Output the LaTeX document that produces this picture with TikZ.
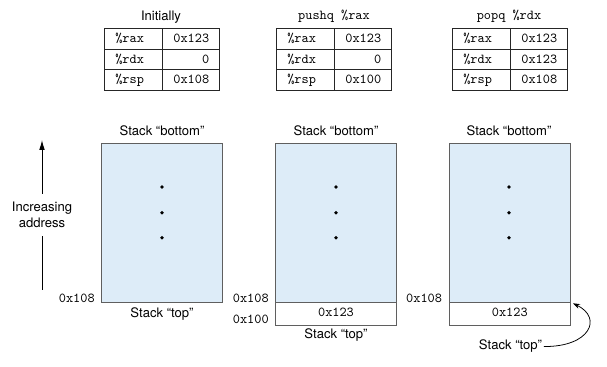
\documentclass[tikz,border=0pt]{standalone}
\usepackage{fontspec}
\setmainfont{TeX Gyre Heros}
\usetikzlibrary{arrows.meta}
\definecolor{stackblue}{RGB}{221,236,248}
\definecolor{boxgray}{RGB}{95,95,95}
\tikzset{
  lbl/.style={font=\fontsize{9.3}{11}\selectfont, inner sep=0pt},
  regtt/.style={font=\fontsize{9.7}{11}\ttfamily, inner sep=0pt},
  cell/.style={draw=black!85, line width=0.55pt},
  stackbox/.style={draw=boxgray, fill=stackblue, line width=0.7pt},
  slot/.style={draw=boxgray, fill=white, line width=0.7pt},
  dot/.style={fill=black, draw=none},
}
\begin{document}
\begin{tikzpicture}[x=0.025cm, y=-0.025cm]
\useasboundingbox (0,0) rectangle (607,367);

%%%register tables
\node[lbl, anchor=base] (titleA) at (161,20.7) {Initially};
\draw[cell] (104,28.5) rectangle (219,90);
\draw[cell] (162,28.5)--(162,90);
\draw[cell] (104,49)--(219,49);
\draw[cell] (104,69.5)--(219,69.5);
\node[regtt, anchor=base west] (raxA) at (115,43) {\%rax};
\node[regtt, anchor=base west] (rdxA) at (115,63.5) {\%rdx};
\node[regtt, anchor=base west] (rspA) at (115,84) {\%rsp};
\node[regtt, anchor=base east] (raxvalA) at (209.5,43) {0x123};
\node[regtt, anchor=base east] (rdxvalA) at (209.5,63.5) {0};
\node[regtt, anchor=base east] (rspvalA) at (209.5,84) {0x108};

\node[regtt, anchor=base] (titleB) at (334,20) {pushq \%rax};
\draw[cell] (276,28.5) rectangle (391,90);
\draw[cell] (334.5,28.5)--(334.5,90);
\draw[cell] (276,49)--(391,49);
\draw[cell] (276,69.5)--(391,69.5);
\node[regtt, anchor=base west] (raxB) at (287,43) {\%rax};
\node[regtt, anchor=base west] (rdxB) at (287,63.5) {\%rdx};
\node[regtt, anchor=base west] (rspB) at (287,84) {\%rsp};
\node[regtt, anchor=base east] (raxvalB) at (381.5,43) {0x123};
\node[regtt, anchor=base east] (rdxvalB) at (381.5,63.5) {0};
\node[regtt, anchor=base east] (rspvalB) at (381.5,84) {0x100};

\node[regtt, anchor=base] (titleC) at (509,20) {popq \%rdx};
\draw[cell] (452,28.5) rectangle (567,90);
\draw[cell] (510,28.5)--(510,90);
\draw[cell] (452,49)--(567,49);
\draw[cell] (452,69.5)--(567,69.5);
\node[regtt, anchor=base west] (raxC) at (463,43) {\%rax};
\node[regtt, anchor=base west] (rdxC) at (463,63.5) {\%rdx};
\node[regtt, anchor=base west] (rspC) at (463,84) {\%rsp};
\node[regtt, anchor=base east] (raxvalC) at (557.5,43) {0x123};
\node[regtt, anchor=base east] (rdxvalC) at (557.5,63.5) {0x123};
\node[regtt, anchor=base east] (rspvalC) at (557.5,84) {0x108};

%%%increasing address arrow
\coordinate (arrowlow) at (42,290);
\coordinate (arrowhigh) at (42,140);
\node[lbl, align=center, inner ysep=6pt] (incr) at (42,215) {Increasing\\address};
\draw[line width=0.7pt, -{Latex[length=7pt, width=4pt]}] (arrowlow) -- (incr) -- (arrowhigh);

%%%stack initially
\draw[stackbox] (101.7,143.3) rectangle (222.7,302.7);
\fill[dot] (162,187) circle (1.9);
\fill[dot] (162,212.7) circle (1.9);
\fill[dot] (162,237.7) circle (1.9);
\node[lbl, anchor=base] (bottomA) at (162,135.5) {Stack “bottom”};
\node[lbl, anchor=base] (topA) at (162,317.5) {Stack “top”};
\node[regtt, anchor=base east] (addrA) at (95,303) {0x108};

%%%stack after pushq
\draw[stackbox] (275,143.3) rectangle (396.7,302.7);
\draw[slot] (275,302.7) rectangle (396.7,325.7);
\fill[dot] (336,187) circle (1.9);
\fill[dot] (336,212.7) circle (1.9);
\fill[dot] (336,237.7) circle (1.9);
\node[regtt, anchor=base] (slotB) at (336,316.7) {0x123};
\node[lbl, anchor=base] (bottomB) at (336,135.5) {Stack “bottom”};
\node[lbl, anchor=base] (topB) at (336,339) {Stack “top”};
\node[regtt, anchor=base east] (addrB) at (269,303) {0x108};
\node[regtt, anchor=base east] (addrBlow) at (269,324) {0x100};

%%%stack after popq
\draw[stackbox] (449,143.3) rectangle (570.7,302.7);
\draw[slot] (449,302.7) rectangle (570.7,325.7);
\fill[dot] (509,187) circle (1.9);
\fill[dot] (509,212.7) circle (1.9);
\fill[dot] (509,237.7) circle (1.9);
\node[regtt, anchor=base] (slotC) at (509.8,316.7) {0x123};
\node[lbl, anchor=base] (bottomC) at (509,135.5) {Stack “bottom”};
\node[lbl, anchor=base west, inner xsep=1pt] (topC) at (477.3,350) {Stack “top”};
\node[regtt, anchor=base east] (addrC) at (442.3,303) {0x108};
\coordinate (cornerC) at (573,303.3);
\draw[line width=0.55pt, -{Stealth[length=5pt, width=3.5pt]}] (topC.east) .. controls (590,347) and (603,318) .. (cornerC);

\end{tikzpicture}
\end{document}
